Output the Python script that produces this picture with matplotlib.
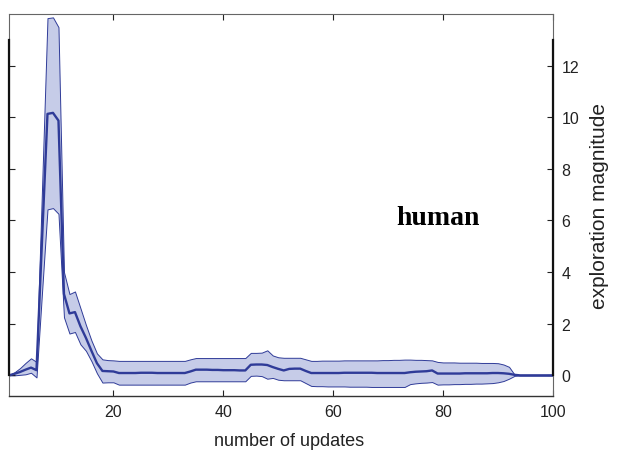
import matplotlib
matplotlib.use("Agg")
import numpy as np
import matplotlib.pyplot as plt

plt.rcParams['font.family'] = ['Liberation Sans', 'DejaVu Sans']

# update index and exploration magnitude (mean and band edges)
updates = list(range(1, 101))

mean_mag = [
    0.00, 0.06, 0.13, 0.22, 0.30, 0.20, 5.20, 10.13, 10.17, 9.87,
    3.15, 2.40, 2.45, 1.90, 1.45, 0.95, 0.47, 0.17, 0.16, 0.15,
    0.09, 0.09, 0.09, 0.09, 0.10, 0.10, 0.10, 0.09, 0.09, 0.09,
    0.09, 0.09, 0.09, 0.15, 0.22, 0.22, 0.22, 0.21, 0.21, 0.20,
    0.20, 0.20, 0.19, 0.19, 0.41, 0.42, 0.42, 0.40, 0.32, 0.25,
    0.19, 0.25, 0.26, 0.26, 0.17, 0.09, 0.09, 0.09, 0.09, 0.09,
    0.09, 0.10, 0.10, 0.10, 0.10, 0.10, 0.10, 0.09, 0.09, 0.09,
    0.09, 0.09, 0.09, 0.12, 0.14, 0.15, 0.16, 0.19, 0.07, 0.07,
    0.07, 0.07, 0.07, 0.08, 0.08, 0.08, 0.08, 0.08, 0.09, 0.09,
    0.08, 0.06, 0.02, 0.00, 0.00, 0.00, 0.00, 0.00, 0.00, 0.00,
]

upper_mag = [
    0.00, 0.12, 0.28, 0.48, 0.66, 0.52, 7.20, 13.84, 13.87, 13.49,
    4.00, 3.15, 3.25, 2.60, 1.95, 1.35, 0.85, 0.62, 0.59, 0.58,
    0.56, 0.56, 0.56, 0.56, 0.56, 0.56, 0.56, 0.56, 0.56, 0.56,
    0.56, 0.56, 0.56, 0.62, 0.67, 0.67, 0.67, 0.67, 0.67, 0.67,
    0.67, 0.67, 0.67, 0.67, 0.87, 0.87, 0.88, 0.97, 0.77, 0.70,
    0.68, 0.68, 0.68, 0.68, 0.62, 0.56, 0.56, 0.57, 0.57, 0.57,
    0.57, 0.58, 0.58, 0.58, 0.58, 0.58, 0.58, 0.58, 0.59, 0.59,
    0.60, 0.60, 0.61, 0.61, 0.60, 0.60, 0.59, 0.58, 0.52, 0.50,
    0.50, 0.50, 0.49, 0.49, 0.49, 0.49, 0.48, 0.48, 0.48, 0.47,
    0.42, 0.33, 0.03, 0.00, 0.00, 0.00, 0.00, 0.00, 0.00, 0.00,
]

lower_mag = [
    0.00, 0.00, 0.02, 0.04, 0.10, -0.08, 3.20, 6.43, 6.48, 6.26,
    2.25, 1.62, 1.68, 1.20, 0.95, 0.55, 0.08, -0.28, -0.27, -0.27,
    -0.36, -0.36, -0.36, -0.36, -0.36, -0.36, -0.36, -0.36, -0.36, -0.36,
    -0.36, -0.36, -0.36, -0.28, -0.23, -0.23, -0.23, -0.23, -0.23, -0.23,
    -0.23, -0.23, -0.23, -0.23, -0.02, -0.01, -0.03, -0.13, -0.10, -0.17,
    -0.19, -0.19, -0.19, -0.19, -0.30, -0.41, -0.42, -0.42, -0.43, -0.43,
    -0.43, -0.43, -0.44, -0.44, -0.44, -0.44, -0.45, -0.45, -0.45, -0.45,
    -0.45, -0.45, -0.45, -0.34, -0.31, -0.29, -0.28, -0.26, -0.36, -0.35,
    -0.35, -0.34, -0.34, -0.33, -0.33, -0.32, -0.32, -0.31, -0.30, -0.27,
    -0.22, -0.13, -0.02, 0.00, 0.00, 0.00, 0.00, 0.00, 0.00, 0.00,
]

x_ticks = [20, 40, 60, 80, 100]
y_ticks = [0, 2, 4, 6, 8, 10, 12]

band_color = '#c6cce8'
line_color = '#2f3b98'

fig = plt.figure(figsize=(6.18, 4.52), dpi=100)
ax = fig.add_axes([0.0146, 0.1217, 0.8802, 0.8451])

# darker axis segment over the plotted range, like a second y axis
ax2 = ax.twinx()

ax.fill_between(updates, lower_mag, upper_mag, facecolor=band_color,
                edgecolor=line_color, linewidth=0.7)
ax.plot(updates, mean_mag, color=line_color, linewidth=1.7)

ax.set_xlim(1, 100)
ax.set_ylim(-0.8, 14.0)
ax.set_xticks(x_ticks)
ax.set_yticks(y_ticks)
ax.tick_params(axis='both', direction='in', length=4, width=0.8,
               labelsize=11.5, colors='#222222')
ax.tick_params(axis='x', top=True, pad=6)
ax.tick_params(axis='y', left=True, right=True, labelleft=False,
               labelright=True, pad=6)
for side in ['top', 'left', 'right']:
    ax.spines[side].set_linewidth(0.8)
    ax.spines[side].set_color('#666666')
ax.spines['bottom'].set_linewidth(1.0)
ax.spines['bottom'].set_color('#333333')

ax2.set_ylim(ax.get_ylim())
ax2.set_yticks([])
for side in ['top', 'bottom']:
    ax2.spines[side].set_visible(False)
for side in ['left', 'right']:
    ax2.spines[side].set_bounds(0, 13)
    ax2.spines[side].set_linewidth(1.6)
    ax2.spines[side].set_color('#111111')

ax.set_xlabel('number of updates', fontsize=13, color='#222222')
ax.xaxis.set_label_coords(0.515, -0.095)
ax.yaxis.set_label_position('right')
ax.set_ylabel('exploration magnitude', fontsize=15, color='#222222',
              labelpad=8)

ax.text(79, 6.1, 'human', family=['Liberation Serif', 'DejaVu Serif'],
        fontweight='bold', fontsize=20, ha='center', va='center')

fig.savefig('out.png', dpi=100)
